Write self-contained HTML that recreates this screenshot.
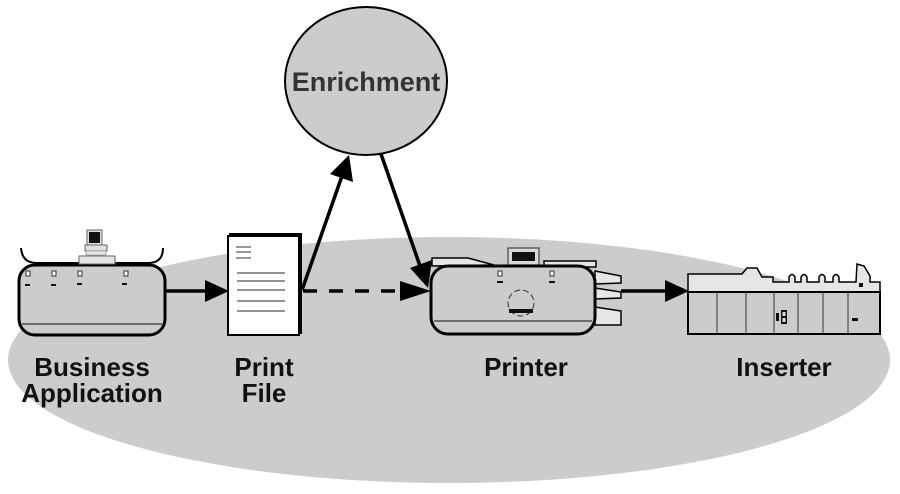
<!DOCTYPE html>
<html><head><meta charset="utf-8"><style>
html,body{margin:0;padding:0;background:#fff;}
svg{display:block;}
text{font-family:"Liberation Sans",Arial,sans-serif;font-weight:bold;}
</style></head><body>
<svg width="900" height="494" viewBox="0 0 900 494" xmlns="http://www.w3.org/2000/svg">
<!-- big ellipse -->
<ellipse cx="449" cy="360" rx="441" ry="123" fill="#cccccc"/>

<!-- Enrichment circle -->
<ellipse cx="366" cy="81" rx="81" ry="74" fill="#cccccc" stroke="#000" stroke-width="2"/>
<text x="366" y="91" font-size="27" text-anchor="middle" fill="#333">Enrichment</text>

<!-- Business application -->
<path d="M21,248 Q22,263 37,263 L148,263 Q163,263 163,248" fill="none" stroke="#000" stroke-width="2"/>
<rect x="19" y="265" width="146" height="70" rx="16" ry="16" fill="#cccccc" stroke="#000" stroke-width="3"/>
<line x1="22" y1="324" x2="162" y2="324" stroke="#333" stroke-width="1.2"/>
<!-- computer -->
<rect x="79" y="256" width="36" height="8" fill="#e4e4e4" stroke="#666" stroke-width="1"/>
<rect x="85" y="245" width="22" height="6" fill="#e0e0e0" stroke="#666" stroke-width="1"/>
<rect x="86" y="251" width="20" height="4" fill="#e8e8e8" stroke="#999" stroke-width="0.8"/>
<rect x="87" y="230" width="15" height="15" fill="#e0e0e0" stroke="#666" stroke-width="1"/>
<rect x="89" y="232" width="11" height="11" fill="#111"/>
<!-- indicators -->
<g fill="#fff" stroke="#333" stroke-width="1">
<rect x="26" y="271" width="4" height="5"/><rect x="52" y="271" width="4" height="5"/><rect x="78" y="271" width="4" height="5"/><rect x="124" y="271" width="4" height="5"/>
</g>
<g fill="#111">
<rect x="25" y="284" width="5" height="2"/><rect x="51" y="284" width="5" height="2"/><rect x="77" y="283" width="5" height="2"/><rect x="122" y="283" width="5" height="2"/>
</g>

<!-- arrow BA -> print file -->
<line x1="165" y1="291" x2="210" y2="291" stroke="#000" stroke-width="3.5"/>
<polygon points="229,291 205,280 205,302" fill="#000"/>

<!-- Print file -->
<rect x="230" y="234" width="71" height="99" fill="#fff" stroke="#000" stroke-width="2"/>
<rect x="228" y="236" width="71" height="99" fill="#fff" stroke="#000" stroke-width="2"/>
<g stroke="#555" stroke-width="1.2">
<line x1="236" y1="247" x2="251" y2="247"/><line x1="236" y1="252" x2="251" y2="252"/><line x1="236" y1="258" x2="251" y2="258"/>
<line x1="237" y1="273" x2="285" y2="273"/><line x1="237" y1="281" x2="285" y2="281"/><line x1="237" y1="290" x2="285" y2="290"/><line x1="237" y1="301" x2="285" y2="301"/><line x1="237" y1="311" x2="285" y2="311"/>
</g>

<!-- arrow print file -> enrichment -->
<line x1="302" y1="290" x2="342" y2="176" stroke="#000" stroke-width="3.5"/>
<polygon points="349,155 330,174 353,182" fill="#000"/>
<!-- arrow enrichment -> printer -->
<line x1="381" y1="154" x2="420" y2="266" stroke="#000" stroke-width="3.5"/>
<polygon points="428,288 410,268 432,260" fill="#000"/>
<!-- dashed arrow -->
<line x1="303" y1="291" x2="404" y2="291" stroke="#000" stroke-width="3.5" stroke-dasharray="14,12"/>
<polygon points="431,291 400,281 400,301" fill="#000"/>

<!-- Printer -->
<polygon points="432,258 468,258 494,265 432,266" fill="#e6e6e6" stroke="#000" stroke-width="1.5"/>
<rect x="544" y="261" width="52" height="6" fill="#e6e6e6" stroke="#000" stroke-width="1.5"/>
<rect x="508" y="248" width="31" height="17" fill="#d8d8d8" stroke="#444" stroke-width="1.2"/>
<rect x="512" y="252" width="23" height="9" fill="#111"/>
<polygon points="595,271 621,276 621,283 595,284" fill="#e6e6e6" stroke="#000" stroke-width="1.5"/>
<polygon points="595,288 621,292 621,298 595,299" fill="#e6e6e6" stroke="#000" stroke-width="1.5"/>
<polygon points="595,307 621,311 621,325 595,325" fill="#e6e6e6" stroke="#000" stroke-width="1.5"/>
<rect x="431" y="266" width="164" height="68" rx="17" ry="17" fill="#cccccc" stroke="#000" stroke-width="3"/>
<line x1="434" y1="321" x2="592" y2="321" stroke="#333" stroke-width="1.2"/>
<g fill="#fff" stroke="#333" stroke-width="1">
<rect x="498" y="271" width="4" height="5"/><rect x="550" y="271" width="4" height="5"/>
</g>
<g fill="#111"><rect x="497" y="281" width="6" height="2"/><rect x="549" y="281" width="6" height="2"/></g>
<circle cx="521" cy="303" r="13" fill="none" stroke="#333" stroke-width="1" stroke-dasharray="6,3"/>
<rect x="509" y="309" width="24" height="4" fill="#111"/>

<!-- arrow printer -> inserter -->
<line x1="621" y1="291" x2="670" y2="291" stroke="#000" stroke-width="3.5"/>
<polygon points="689,291 665,280 665,302" fill="#000"/>

<!-- Inserter -->
<path d="M688,274 L742,274 L747,268 L757,268 L762,277 L773,277 L773,282 L789,282 L789,277 Q792,272 795,277 L795,282 L801,282 L801,277 Q804,272 807,277 L807,282 L819,282 L819,277 Q822,272 825,277 L825,282 L833,282 L833,277 Q836,272 839,277 L839,282 L856,282 L857,264 L864,266 L870,276 L870,282 L880,282 L880,292 L688,292 Z" fill="#e6e6e6" stroke="#000" stroke-width="1.5"/>
<rect x="688" y="292" width="192" height="42" fill="#cccccc" stroke="#000" stroke-width="2"/>
<g stroke="#333" stroke-width="1">
<line x1="717" y1="292" x2="717" y2="334"/><line x1="746" y1="292" x2="746" y2="334"/><line x1="774" y1="292" x2="774" y2="334"/><line x1="798" y1="292" x2="798" y2="334"/><line x1="823" y1="292" x2="823" y2="334"/><line x1="848" y1="292" x2="848" y2="334"/>
</g>
<rect x="859" y="283" width="4" height="4" fill="#111"/>
<rect x="776" y="313" width="3" height="8" fill="#111"/>
<rect x="781" y="310" width="6" height="14" fill="#111"/>
<rect x="782.5" y="312" width="3" height="4" fill="#ddd"/>
<rect x="782.5" y="318" width="3" height="4" fill="#ddd"/>
<rect x="852" y="318" width="6" height="3" fill="#111"/>

<!-- labels -->
<g font-size="26" fill="#111" text-anchor="middle">
<text x="92" y="376">Business</text>
<text x="92" y="402">Application</text>
<text x="264" y="376">Print</text>
<text x="264" y="402">File</text>
<text x="526" y="376">Printer</text>
<text x="784" y="376">Inserter</text>
</g>
</svg>
</body></html>
